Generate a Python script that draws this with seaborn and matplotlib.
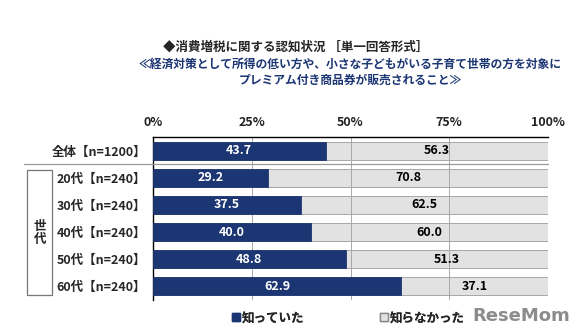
import matplotlib
matplotlib.use("Agg")
import matplotlib.pyplot as plt
import seaborn as sns
import pandas as pd
from matplotlib.patches import Patch, Rectangle
from matplotlib.lines import Line2D

categories = ["全体【n=1200】", "20代【n=240】", "30代【n=240】", "40代【n=240】", "50代【n=240】", "60代【n=240】"]
knew = [43.7, 29.2, 37.5, 40.0, 48.8, 62.9]
not_knew = [56.3, 70.8, 62.5, 60.0, 51.3, 37.1]
series_names = ["知っていた", "知らなかった"]
x_ticks = [0, 25, 50, 75, 100]
x_tick_labels = ["0%", "25%", "50%", "75%", "100%"]
title = "◆消費増税に関する認知状況 ［単一回答形式］"
subtitle1 = "≪経済対策として所得の低い方や、小さな子どもがいる子育て世帯の方を対象に"
subtitle2 = "プレミアム付き商品券が販売されること≫"
group_label = "世\n代"

sns.set_style("white")
plt.rcParams["font.family"] = ["Noto Sans CJK JP", "DejaVu Sans"]

NAVY = "#1c3573"
LGREY = "#e2e2e2"

df = pd.DataFrame({"cat": categories, "knew": knew, "not_knew": not_knew})
df["total"] = df["knew"] + df["not_knew"]

W, H = 584, 335
fig = plt.figure(figsize=(W / 100, H / 100), dpi=100)
ax = fig.add_axes([153 / W, 1 - 300 / H, (548 - 153) / W, (300 - 137) / H])

sns.barplot(data=df, y="cat", x="total", orient="h", color=LGREY, width=0.66,
            edgecolor="#9a9a9a", linewidth=0.6, saturation=1, ax=ax)
n_grey = len(ax.patches)
sns.barplot(data=df, y="cat", x="knew", orient="h", color=NAVY, width=0.66,
            edgecolor=NAVY, linewidth=0.6, saturation=1, ax=ax)
for i, p in enumerate(ax.patches):
    p.set_zorder(1 if i < n_grey else 3)

for xv in [25, 50, 75]:
    ax.axvline(xv, color="#a8a8a8", lw=0.7, zorder=2)

ax.set_xlim(0, 100)
ax.set_ylim(5.5, -0.5)
ax.xaxis.tick_top()
ax.set_xticks(x_ticks)
ax.set_xticklabels(x_tick_labels, fontsize=9, fontweight="bold", color="#222222")
ax.tick_params(axis="x", length=0, pad=6)
ax.set_yticks(range(len(categories)))
ax.set_yticklabels(categories, fontsize=9, fontweight="bold")
ax.tick_params(axis="y", length=0, pad=5)
ax.set_yticks([1.5, 2.5, 3.5, 4.5, 5.5], minor=True)
ax.tick_params(axis="y", which="minor", direction="in", length=4, width=0.8, color="black")
ax.set_xlabel("")
ax.set_ylabel("")

for s in ["right", "bottom"]:
    ax.spines[s].set_visible(False)
for s in ["left", "top"]:
    ax.spines[s].set_color("black")
    ax.spines[s].set_linewidth(1.0)

for i, (k, n) in enumerate(zip(knew, not_knew)):
    ax.text(k / 2, i, f"{k:.1f}", ha="center", va="center", color="white",
            fontsize=9, fontweight="bold", zorder=5)
    ax.text(k + n / 2, i, f"{n:.1f}", ha="center", va="center", color="black",
            fontsize=9, fontweight="bold", zorder=5)

# separator line below 全体
fig.add_artist(Line2D([24 / W, 548 / W], [1 - 163.5 / H] * 2, color="#9a9a9a", lw=0.9))

# 世代 group box
fig.add_artist(Rectangle((27 / W, 1 - 295 / H), 25 / W, 125 / H, fill=False,
                         edgecolor="#777777", lw=0.9))
fig.text(40 / W, 1 - 233 / H, group_label, ha="center", va="center", fontsize=9,
         fontweight="bold", linespacing=1.0)

fig.text(163 / W, 1 - 47 / H, title, ha="left", va="center", fontsize=9, fontweight="bold")
fig.text(350 / W, 1 - 64 / H, subtitle1, ha="center", va="center", fontsize=8.5,
         fontweight="bold", color=NAVY)
fig.text(350 / W, 1 - 80 / H, subtitle2, ha="center", va="center", fontsize=8.5,
         fontweight="bold", color=NAVY)

leg_prop = {"size": 9, "weight": "bold", "family": ["Noto Sans CJK JP", "DejaVu Sans"]}
handles = [Patch(facecolor=NAVY, edgecolor=NAVY), Patch(facecolor=LGREY, edgecolor="#888888")]
anchors = [232, 380]
for h, name, xa in zip(handles, series_names, anchors):
    lg = fig.legend([h], [name], loc="center left", bbox_to_anchor=(xa / W, 1 - 318 / H),
                    frameon=False, handlelength=0.6, handleheight=0.6, handletextpad=0.2,
                    borderpad=0, borderaxespad=0, prop=leg_prop)
    fig.add_artist(lg)

fig.text(521 / W, 1 - 316 / H, "ReseMom", ha="center", va="center", fontsize=13,
         fontweight="bold", color="#8c8c8c", family="DejaVu Sans")

fig.savefig("out.png", dpi=100)
